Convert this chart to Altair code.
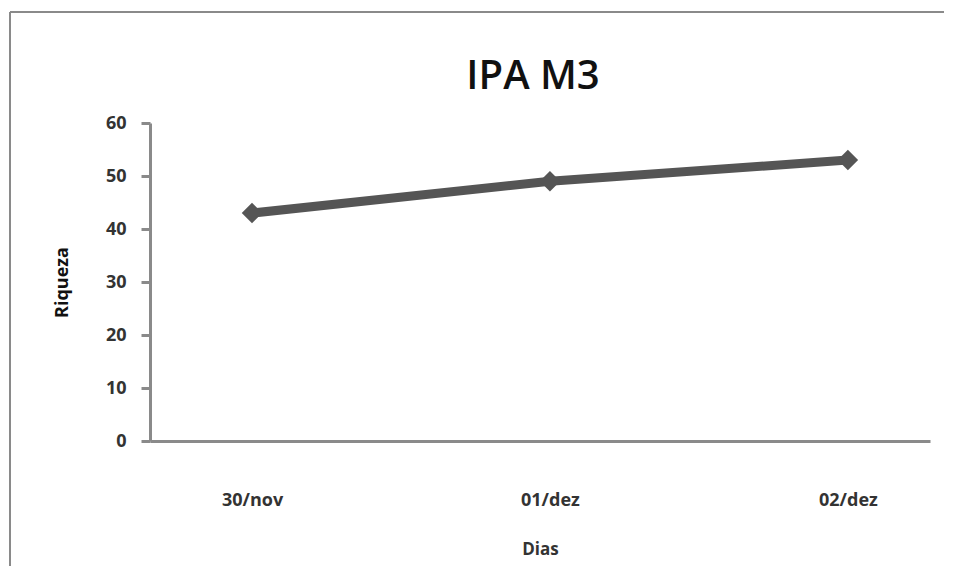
import altair as alt
import pandas as pd

dias = ["30/nov", "01/dez", "02/dez"]
riqueza = [43, 49, 53]
y_ticks = [0, 10, 20, 30, 40, 50, 60]
titulo = "IPA M3"

df = pd.DataFrame({"Dias": dias, "Riqueza": riqueza})
df_title = pd.DataFrame({"t": [titulo]})

LINE = "#555555"
AXIS = "#8a8a8a"
FONT = "Open Sans"

x_enc = alt.X("Dias:N", sort=dias,
              scale=alt.Scale(type="point", padding=0.309, align=0.554),
              axis=alt.Axis(title="Dias", labelAngle=0, ticks=False,
                            labelPadding=50, titlePadding=32,
                            labelFont=FONT, labelFontSize=18, labelFontWeight="bold",
                            labelColor="#333333",
                            titleFont=FONT, titleFontSize=17, titleFontWeight="bold",
                            titleColor="#333333",
                            domainColor=AXIS, domainWidth=3, grid=False))
y_enc = alt.Y("Riqueza:Q",
              scale=alt.Scale(domain=[0, 60], nice=False, zero=True),
              axis=alt.Axis(title="Riqueza", values=y_ticks, tickSize=9, tickWidth=3,
                            tickColor=AXIS, labelPadding=15,
                            labelFont=FONT, labelFontSize=18, labelFontWeight="bold",
                            labelColor="#333333",
                            titleFont=FONT, titleFontSize=18, titleFontWeight="bold",
                            titleColor="#111111", titlePadding=34,
                            domainColor=AXIS, domainWidth=3, grid=False))

line = alt.Chart(df).mark_line(color=LINE, strokeWidth=9).encode(x=x_enc, y=y_enc)
pts = alt.Chart(df).mark_point(shape="diamond", filled=True, color=LINE, size=420,
                               opacity=1).encode(x=x_enc, y=y_enc)

title = alt.Chart(df_title).mark_text(font=FONT, fontSize=40, fontWeight=600,
                                      color="#111111", baseline="alphabetic",
                                      align="center").encode(
    text="t:N", x=alt.value(383), y=alt.value(-34))

border_left = alt.Chart(df).mark_rule(color=AXIS, strokeWidth=2).encode(
    x=alt.value(-140), y=alt.value(-111), y2=alt.value(460))
border_top = alt.Chart(df).mark_rule(color=AXIS, strokeWidth=2).encode(
    x=alt.value(-140), x2=alt.value(810), y=alt.value(-111))

chart = alt.layer(border_left, border_top, title, line, pts).properties(
    width=780, height=318,
    autosize=alt.AutoSizeParams(type="none"),
    padding={"left": 142, "top": 115, "right": 14, "bottom": 125},
    background="white",
).configure_view(stroke=None)

chart.save("out.html", embed_options={"renderer": "svg", "actions": False})
